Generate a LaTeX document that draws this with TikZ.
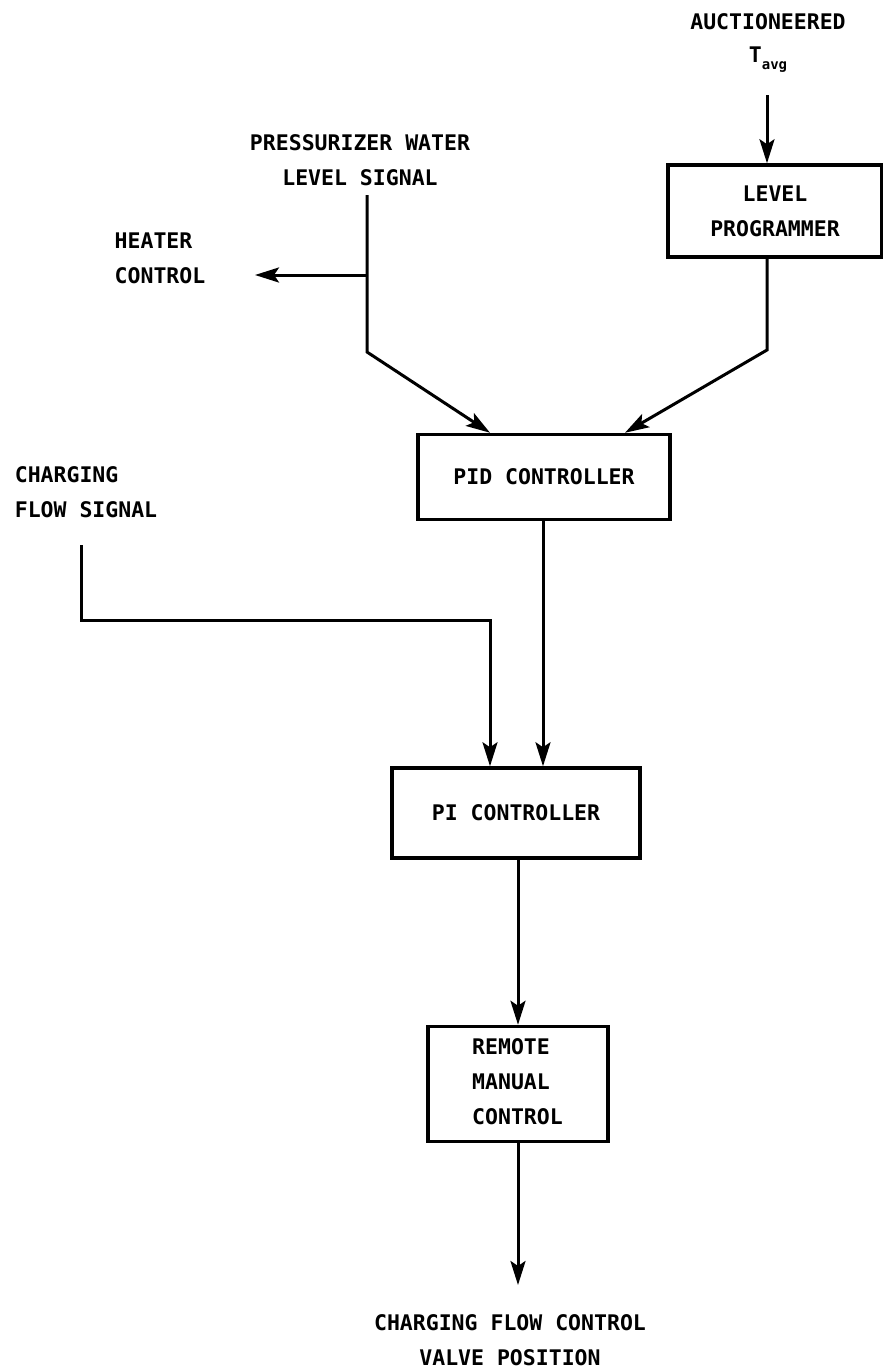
\documentclass[tikz,border=0pt]{standalone}
\usepackage{fontspec}
\setmonofont{DejaVu Sans Mono}
\usetikzlibrary{arrows.meta}
\begin{document}
\begin{tikzpicture}[x=1pt,y=-1pt,
  lbl/.style={font=\fontsize{21.5}{35}\selectfont\ttfamily\bfseries, align=center, inner sep=0pt},
  box/.style={draw, line width=3.5pt, inner sep=0pt, font=\fontsize{21.5}{35}\selectfont\ttfamily\bfseries, align=center},
  wire/.style={line width=3pt, line join=miter},
  arr/.style={wire, -{Stealth[length=24pt,width=15pt,inset=5pt]}}]
\useasboundingbox (0,0) rectangle (883,1368);

% blocks
\node[box, minimum width=214pt, minimum height=92pt] (lp) at (775,211) {LEVEL\\PROGRAMMER};
\node[box, minimum width=252pt, minimum height=85pt] (pid) at (544,477) {PID CONTROLLER};
\node[box, minimum width=248pt, minimum height=90pt] (pi) at (516,813) {PI CONTROLLER};
\node[box, minimum width=180pt, minimum height=115pt] (rm) at (518,1084) {};
\node[lbl, align=left, anchor=west] (rmt) at (472,1082) {REMOTE\\MANUAL\\CONTROL};

% signal labels
\node[lbl] (auc) at (768,22) {AUCTIONEERED};
\node[lbl] (tavg) at (768,60) {T\raisebox{-7pt}{\fontsize{14}{14}\selectfont avg}};
\node[lbl] (pwl) at (360,160) {PRESSURIZER WATER\\LEVEL SIGNAL};
\node[lbl, align=left] (heat) at (160,258) {HEATER\\CONTROL};
\node[lbl, align=left] (cfs) at (86,492) {CHARGING\\FLOW SIGNAL};
\node[lbl] (out) at (510,1340) {CHARGING FLOW CONTROL\\VALVE POSITION};

% wire corner points
\coordinate (tin) at (767,95);
\coordinate (lpk) at (767,350);
\coordinate (pidr) at (625,0);
\coordinate (pw) at (367,195);
\coordinate (pwk) at (367,352);
\coordinate (hb) at (367,275);
\coordinate (he) at (255,275);
\coordinate (pidl) at (490,0);
\coordinate (pido) at (543,0);
\coordinate (cf) at (81,545);
\coordinate (cfk) at (81,620);
\coordinate (cfr) at (490,620);
\coordinate (pio) at (518,0);
\coordinate (vend) at (518,1285);

% connectors
\draw[arr] (tin) -- (tin |- lp.north);
\draw[arr] (lpk |- lp.south) -- (lpk) -- (pidr |- pid.north);
\draw[arr] (pw) -- (pwk) -- (pidl |- pid.north);
\draw[arr] (hb) -- (he);
\draw[arr] (pido |- pid.south) -- (pido |- pi.north);
\draw[arr] (cf) -- (cfk) -- (cfr) -- (cfr |- pi.north);
\draw[arr] (pio |- pi.south) -- (pio |- rm.north);
\draw[arr] (rm.south) -- (vend);
\end{tikzpicture}
\end{document}
